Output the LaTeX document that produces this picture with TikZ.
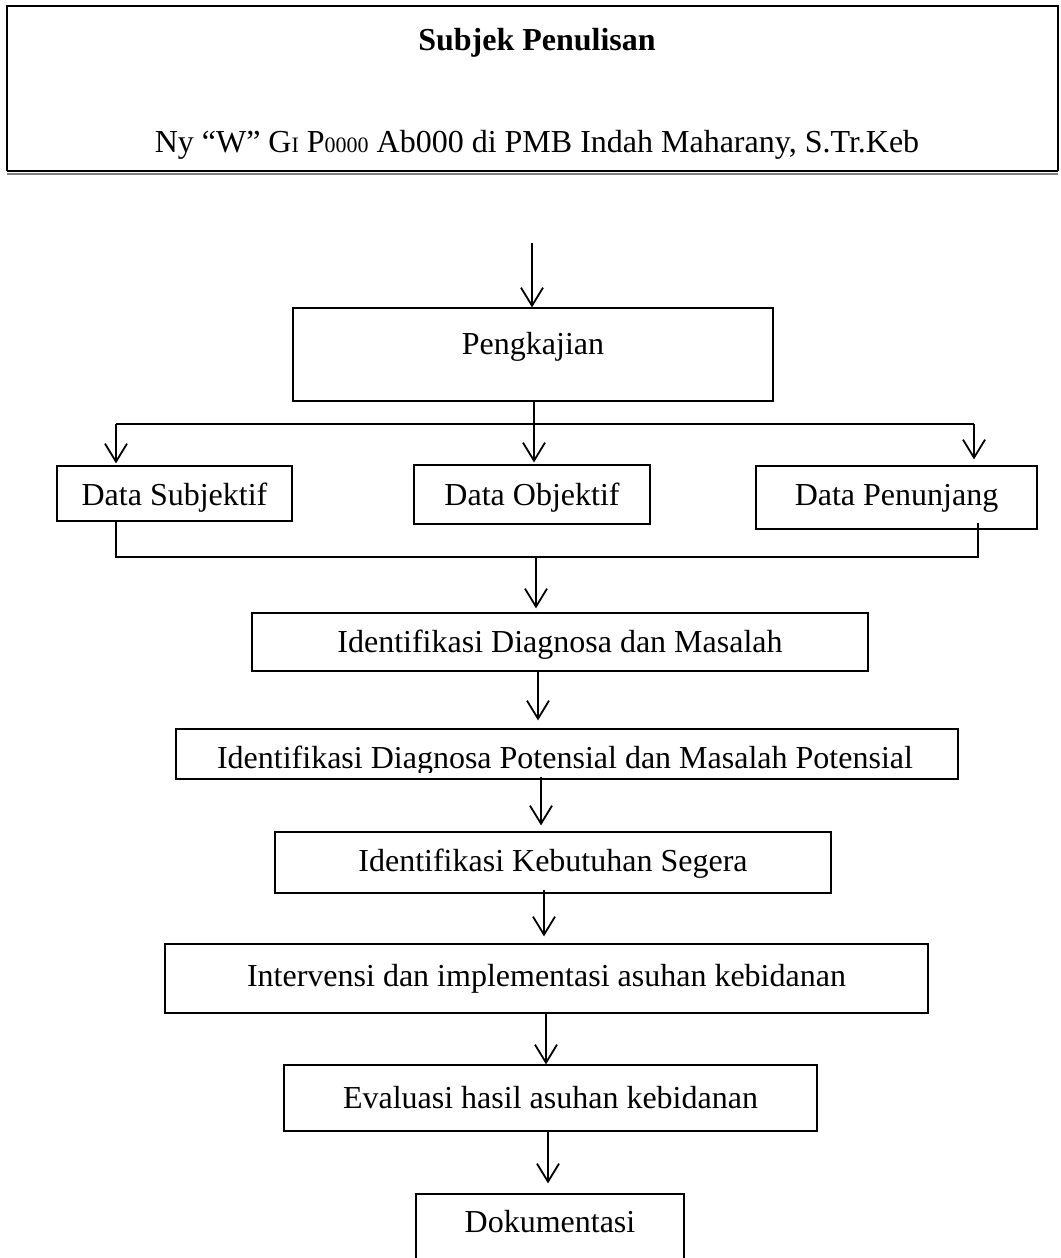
\documentclass[tikz,border=0pt]{standalone}
\usepackage{fontspec}
\setmainfont{Liberation Serif}
\usetikzlibrary{arrows.meta}

\begin{document}
\begin{tikzpicture}[x=0.5pt, y=-0.5pt,
  kotak/.style={draw, line width=0.6pt, inner sep=0pt, text height=#1,
    text depth=0pt, font=\fontsize{16}{19}\selectfont},
  kotak/.default=7.5pt,
  teks/.style={inner sep=0pt, font=\fontsize{16}{19}\selectfont},
  panah/.style={line width=0.9pt, -{Straight Barb[length=9pt, width=11pt]}},
  garis/.style={line width=0.9pt}]
  \useasboundingbox (0,0) rectangle (1060,1258);
  % Kotak subjek penulisan
  \draw[line width=0.9pt] (1058,171) -- (1058,6) -- (7,6) -- (7,171);
  \draw[line width=1pt] (7,171) -- (1058,171);
  \draw[line width=0.6pt, gray] (7,174) -- (1058,174);
  \node[teks, anchor=base] (judul) at (537,50) {\textbf{Subjek Penulisan}};
  \node[teks, anchor=base] (subjek) at (537,152)
    {Ny “W” G{\fontsize{11}{11}\selectfont I} P{\fontsize{11}{11}\selectfont 0000} Ab000 di PMB Indah Maharany, S.Tr.Keb};
  % Pengkajian
  \node[kotak=0pt, text depth=0.5pt, minimum width=240pt, minimum height=46.5pt] (kaji) at (533,354.5) {Pengkajian};
  \coordinate (awal) at (532,243);
  \draw[panah] (awal) -- (kaji.north -| awal);
  % Cabang ke tiga data
  \coordinate (cabangkiri) at (116,424);
  \coordinate (cabangtengah) at (534,424);
  \coordinate (cabangkanan) at (974,424);
  \node[kotak=11.5pt, minimum width=117.5pt, minimum height=27.5pt] (subjektif) at (174.5,493.5) {Data Subjektif};
  \node[kotak=10.5pt, minimum width=118pt, minimum height=29.5pt] (objektif) at (532,494.5) {Data Objektif};
  \node[kotak=8pt, minimum width=140.5pt, minimum height=31.5pt] (penunjang) at (896.5,497.5) {Data Penunjang};
  \draw[garis] (kaji.south -| cabangtengah) -- (cabangtengah);
  \draw[garis] (cabangkiri) -- (cabangkanan);
  \draw[panah] (cabangkiri) -- ([yshift=1pt]subjektif.north -| cabangkiri);
  \draw[panah] (cabangtengah) -- ([yshift=1pt]objektif.north -| cabangtengah);
  \draw[panah] (cabangkanan) -- ([yshift=3pt]penunjang.north -| cabangkanan);
  % Gabungan data
  \coordinate (gabungkiri) at (116,557);
  \coordinate (gabungtengah) at (536,557);
  \coordinate (gabungkanan) at (978,557);
  \draw[garis] (subjektif.south -| gabungkiri) -- (gabungkiri) -- (gabungkanan) -- ++(0,-34);
  % Langkah berikutnya
  \node[kotak=10.5pt, minimum width=308pt, minimum height=29pt] (diagnosa) at (560,642) {Identifikasi Diagnosa dan Masalah};
  \draw[panah] (gabungtengah) -- ([yshift=2pt]diagnosa.north -| gabungtengah);
  \node[kotak, minimum width=391pt, minimum height=25pt] (potensial) at (567,754) {};
  \begin{scope}
    \clip (176,729) rectangle (958,772);
    \node[teks, anchor=base] (potensialteks) at (565,768) {Identifikasi Diagnosa Potensial dan Masalah Potensial};
  \end{scope}
  \coordinate (lurus1) at (538,0);
  \draw[panah] (diagnosa.south -| lurus1) -- ([yshift=4pt]potensial.north -| lurus1);
  \node[kotak=8.5pt, minimum width=278pt, minimum height=30.5pt] (kebutuhan) at (553,862.5) {Identifikasi Kebutuhan Segera};
  \coordinate (lurus2) at (541,0);
  \draw[panah] ([yshift=1.5pt]potensial.south -| lurus2) -- ([yshift=3pt]kebutuhan.north -| lurus2);
  \node[kotak, minimum width=381.5pt, minimum height=34.5pt] (intervensi) at (546.5,978.5) {Intervensi dan implementasi asuhan kebidanan};
  \coordinate (lurus3) at (544,0);
  \draw[panah] ([yshift=2pt]kebutuhan.south -| lurus3) -- ([yshift=3.5pt]intervensi.north -| lurus3);
  \node[kotak=10pt, minimum width=266.5pt, minimum height=33pt] (evaluasi) at (550.5,1098) {Evaluasi hasil asuhan kebidanan};
  \coordinate (lurus4) at (546,0);
  \draw[panah] (intervensi.south -| lurus4) -- (evaluasi.north -| lurus4);
  \node[kotak=0pt, text depth=2pt, minimum width=134pt, minimum height=40pt] (dokumentasi) at (550,1234) {Dokumentasi};
  \coordinate (lurus5) at (548,0);
  \draw[panah] (evaluasi.south -| lurus5) -- ([yshift=5pt]dokumentasi.north -| lurus5);
\end{tikzpicture}
\end{document}
